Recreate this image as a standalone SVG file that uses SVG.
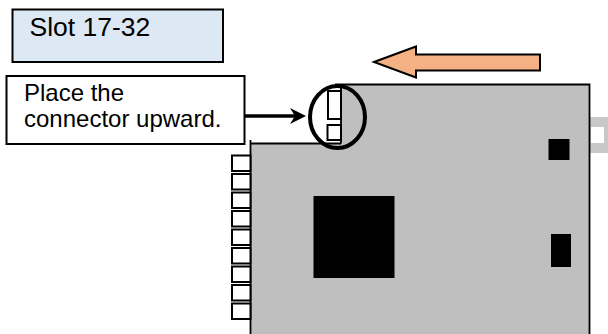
<svg xmlns="http://www.w3.org/2000/svg" width="608" height="334" viewBox="0 0 608 334">
<style>
.t{font-family:"Liberation Sans",Arial,sans-serif;font-size:24px;fill:#000}
.k{fill:#000}
.pin{fill:#fff;stroke:#000;stroke-width:2}
</style>
<rect width="608" height="334" fill="#fff"/>
<g id="handle"><path d="M590 117H608V153H590ZM591 127V143H604V127Z" fill="#c8c8c8" fill-rule="evenodd"/></g>
<g id="board">
<path d="M335 84.500H589.500V334H250.500V143.500H341V84.500Z" fill="#bfbfbf"/>
<path d="M335 84.500H589.500V334M250.500 334V140M250.500 143.500H341M341 84.500V143.500" fill="none" stroke="#000" stroke-width="1.800"/>
<rect class="k" x="313.500" y="196" width="81" height="82"/>
<rect class="k" x="548.500" y="139" width="21" height="21"/>
<rect class="k" x="551" y="234" width="20" height="33"/>
</g>
<g id="pins">
<rect class="pin" x="232" y="155.500" width="18.500" height="15.500"/>
<rect class="pin" x="232" y="174" width="18.500" height="15.500"/>
<rect class="pin" x="232" y="192.500" width="18.500" height="15.500"/>
<rect class="pin" x="232" y="211" width="18.500" height="15.500"/>
<rect class="pin" x="232" y="229.500" width="18.500" height="15.500"/>
<rect class="pin" x="232" y="248" width="18.500" height="15.500"/>
<rect class="pin" x="232" y="266.500" width="18.500" height="15.500"/>
<rect class="pin" x="232" y="285" width="18.500" height="15.500"/>
<rect class="pin" x="232" y="303.500" width="18.500" height="15.500"/>
</g>
<g id="slot-label"><rect x="12.500" y="9.500" width="210.500" height="52.500" fill="#dce8f4" stroke="#000" stroke-width="2"/><text class="t" x="29.500" y="35.500" style="font-size:26.500px">Slot 17-32</text></g>
<g id="callout"><rect x="6.500" y="76" width="238" height="68" fill="#fff" stroke="#000" stroke-width="2"/><text class="t" x="24" y="101">Place the</text><text class="t" x="24" y="127">connector upward.</text></g>
<g id="connector-slot">
<rect x="328" y="91" width="13" height="28" fill="#fff" stroke="#000" stroke-width="2"/>
<rect x="327.500" y="125" width="13.500" height="15" fill="#fff" stroke="#000" stroke-width="2"/>
<ellipse cx="337.500" cy="117" rx="27.500" ry="31" fill="none" stroke="#000" stroke-width="4"/>
</g>
<g id="direction-arrow"><path d="M374 62L416 46.500V54.500H540V70.500H416V77.500Z" fill="#f4b183" stroke="#000" stroke-width="2"/></g>
<g id="connectors"><path d="M245 116H296" stroke="#000" stroke-width="3.500" fill="none"/><path d="M306 116L290 108L295 116L290 124Z" fill="#000"/></g>
</svg>
